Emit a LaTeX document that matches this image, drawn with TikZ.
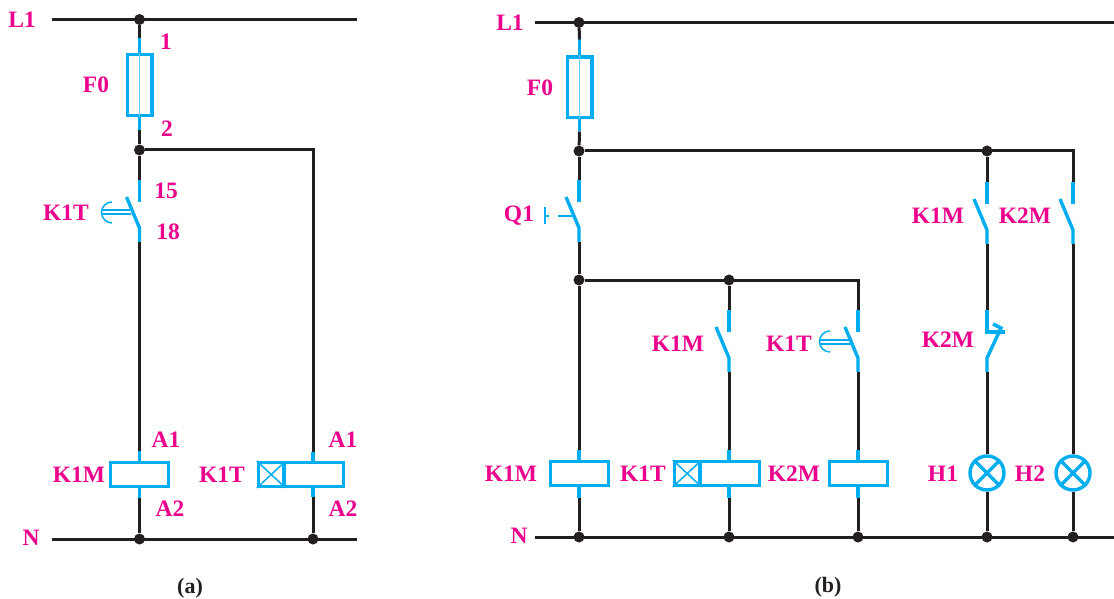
\documentclass[tikz,border=0pt]{standalone}
\usepackage{fontspec}
\setmainfont{Liberation Serif}
\usetikzlibrary{positioning}
\definecolor{dfblack}{RGB}{35,31,32}
\definecolor{dfcyan}{RGB}{0,174,239}
\definecolor{dfpink}{RGB}{236,0,140}
\tikzstyle{wire} = [line width=3pt, color=dfblack]
\tikzstyle{part} = [line width=3.4pt, color=dfcyan]
\tikzstyle{thinpart} = [line width=1.5pt, color=dfcyan]
\tikzstyle{joint} = [circle, fill=dfblack, inner sep=0pt, minimum size=11pt]
\tikzstyle{fuse} = [rectangle, draw=dfcyan, line width=3.4pt, fill=white, inner sep=0pt, minimum width=24.6pt, minimum height=60.6pt]
\tikzstyle{coil} = [rectangle, draw=dfcyan, line width=3.4pt, fill=white, inner sep=0pt, minimum width=58.4pt, minimum height=23.6pt]
\tikzstyle{timebox} = [rectangle, draw=dfcyan, line width=3.4pt, fill=white, inner sep=0pt, minimum width=25.5pt, minimum height=23.6pt]
\tikzstyle{lamp} = [circle, draw=dfcyan, line width=3.4pt, fill=white, inner sep=0pt, minimum size=34pt]
\tikzstyle{tag} = [text=dfpink, font=\fontsize{23.5}{25}\selectfont\bfseries, inner sep=0pt, yshift=-0.7pt]
\tikzstyle{caption} = [text=dfblack, font=\fontsize{22}{24}\selectfont\bfseries, inner sep=0pt]
\begin{document}
\begin{tikzpicture}[x=1pt, y=-1pt]
\useasboundingbox (0,0) rectangle (1114,599);

% Bus ends
\coordinate (lastart) at (52,19.5);
\coordinate (laend) at (357,19.5);
\coordinate (nastart) at (52,539);
\coordinate (naend) at (357,539);
\coordinate (lbstart) at (535,22.5);
\coordinate (lbend) at (1114,22.5);
\coordinate (nbstart) at (535,537);
\coordinate (nbend) at (1114,537);
\coordinate (cornera) at (313,150);
\coordinate (cornerb) at (1073,151);
\coordinate (cornerc) at (858,280);

% Joints
\node[joint] (jla) at (139.5,19.5) {};
\node[joint] (jfa) at (139.5,150) {};
\node[joint] (jna) at (139.5,539) {};
\node[joint] (jnt) at (313,539) {};
\node[joint] (jlb) at (579,22.5) {};
\node[joint] (jfb) at (579,151) {};
\node[joint] (jtop) at (987,151) {};
\node[joint] (jqb) at (579,280) {};
\node[joint] (jmid) at (729,280) {};
\node[joint] (jn1) at (579,537) {};
\node[joint] (jn2) at (729,537) {};
\node[joint] (jn3) at (858,537) {};
\node[joint] (jn4) at (987,537) {};
\node[joint] (jn5) at (1073,537) {};

% Fuses
\node[fuse] (fusea) at (139.5,85) {};
\node[fuse] (fuseb) at (579.5,87.5) {};
\draw[thinpart, dfcyan!60] (fusea.north) -- (fusea.south);
\draw[thinpart, dfcyan!60] (fuseb.north) -- (fuseb.south);
\draw[part] (fusea.north) -- ++(0,-15) coordinate (fatop);
\draw[part] (fusea.south) -- ++(0,13) coordinate (fabot);
\draw[part] (fuseb.north) -- ++(0,-16) coordinate (fbtop);
\draw[part] (fuseb.south) -- ++(0,12) coordinate (fbbot);

% Coils
\node[coil] (k1ma) at (139.5,474.5) {};
\node[coil, minimum width=59.3pt] (k1ta) at (313.6,474.5) {};
\node[timebox, left=-3.4pt of k1ta] (boxa) {};
\node[coil] (k1mb) at (579.5,473.5) {};
\node[coil, minimum width=59.3pt] (k1tb) at (729.6,473.5) {};
\node[timebox, left=-3.4pt of k1tb] (boxb) {};
\node[coil] (k2mb) at (858.5,473.5) {};
\draw[thinpart] (boxa.north west) -- (boxa.south east);
\draw[thinpart] (boxa.north east) -- (boxa.south west);
\draw[thinpart] (boxb.north west) -- (boxb.south east);
\draw[thinpart] (boxb.north east) -- (boxb.south west);
\foreach \n/\x/\ya/\yb in {k1ma/139.5/451/498, k1ta/313/452/497, k1mb/579/450/498, k1tb/729/450/498, k2mb/858/450/498}{
  \draw[part] (\x,\ya) coordinate (\n-t) -- (\n.north -| \x,\ya);
  \draw[part] (\x,\yb) coordinate (\n-b) -- (\n.south -| \x,\yb);
}

% Lamps
\node[lamp] (h1) at (987,473) {};
\node[lamp] (h2) at (1073,473) {};
\foreach \n in {h1,h2}{
  \draw[part] (\n.45) -- (\n.225);
  \draw[part] (\n.135) -- (\n.315);
}

% Normally open contacts
\foreach \n/\x/\y in {cta/139.5/180, cq/579/180, cmb/729/310, ctb/858/310, cm1/987/182, cm2/1073/182}{
  \draw[part] (\x,\y) coordinate (\n-t) -- (\x,\y+22);
  \draw[part] (\x-13,\y+17) -- (\x,\y+48) -- (\x,\y+62) coordinate (\n-b);
}

% Normally closed contact
\draw[part] (987,310) coordinate (cn-t) -- (987,332) -- (1005,332);
\draw[part] (993,324) -- (1001,328) -- (987,358) -- (987,372) coordinate (cn-b);

% Timer marks
\draw[thinpart] (102,210) -- (130,210);
\draw[thinpart] (102,214) -- (131,214);
\draw[thinpart] (112,202) arc[start angle=90, end angle=270, radius=10.5pt];
\draw[thinpart] (820,340) -- (850,340);
\draw[thinpart] (820,344) -- (851,344);
\draw[thinpart] (830,331) arc[start angle=90, end angle=270, radius=10.5pt];

% Push button
\draw[thinpart] (558,216) -- (572,216);
\draw[thinpart] (545,207) -- (545,224);
\draw[thinpart] (545,216) -- (549,216);

% Wires of (a)
\draw[wire] (lastart) -- (laend);
\draw[wire] (nastart) -- (naend);
\draw[wire] (jla) -- (fatop);
\draw[wire] (fabot) -- (jfa);
\draw[wire] (jfa) -- (cta-t);
\draw[wire] (cta-b) -- (k1ma-t);
\draw[wire] (k1ma-b) -- (jna);
\draw[wire] (jfa) -- (cornera) -- (k1ta-t);
\draw[wire] (k1ta-b) -- (jnt);

% Wires of (b)
\draw[wire] (lbstart) -- (lbend);
\draw[wire] (nbstart) -- (nbend);
\draw[wire] (jlb) -- (fbtop);
\draw[wire] (fbbot) -- (jfb);
\draw[wire] (jfb) -- (cq-t);
\draw[wire] (cq-b) -- (jqb);
\draw[wire] (jqb) -- (k1mb-t);
\draw[wire] (k1mb-b) -- (jn1);
\draw[wire] (jqb) -- (cornerc) -- (ctb-t);
\draw[wire] (jmid) -- (cmb-t);
\draw[wire] (cmb-b) -- (k1tb-t);
\draw[wire] (k1tb-b) -- (jn2);
\draw[wire] (ctb-b) -- (k2mb-t);
\draw[wire] (k2mb-b) -- (jn3);
\draw[wire] (jfb) -- (cornerb) -- (cm2-t);
\draw[wire] (jtop) -- (cm1-t);
\draw[wire] (cm1-b) -- (cn-t);
\draw[wire] (cn-b) -- (h1);
\draw[wire] (h1) -- (jn4);
\draw[wire] (cm2-b) -- (h2);
\draw[wire] (h2) -- (jn5);

% Labels of (a)
\node[tag] (tl1a) at (22,19) {L1};
\node[tag] (t1a) at (166,41) {1};
\node[tag] (tf0a) at (96,84) {F0};
\node[tag] (t2a) at (167,128) {2};
\node[tag] (t15a) at (166,190) {15};
\node[tag] (tk1ta) at (66,212) {K1T};
\node[tag] (t18a) at (168,231) {18};
\node[tag] (ta1a) at (166,439) {A1};
\node[tag] (tk1ma) at (79,474) {K1M};
\node[tag] (ta2a) at (170,508) {A2};
\node[tag] (tna) at (31,537) {N};
\node[tag] (tk1tc) at (222,474) {K1T};
\node[tag] (ta1c) at (343,439) {A1};
\node[tag] (ta2c) at (343,508) {A2};

% Labels of (b)
\node[tag] (tl1b) at (510,22) {L1};
\node[tag] (tf0b) at (540,87) {F0};
\node[tag] (tq1) at (519,215) {Q1};
\node[tag] (tm1) at (938,215) {K1M};
\node[tag] (tm2) at (1025,215) {K2M};
\node[tag] (tk1mb) at (678,343) {K1M};
\node[tag] (tk1tb) at (789,343) {K1T};
\node[tag] (tk2m) at (948,339) {K2M};
\node[tag] (tk1mc) at (511,473) {K1M};
\node[tag] (tk1td) at (643,473) {K1T};
\node[tag] (tk2mb) at (794,473) {K2M};
\node[tag] (th1) at (943,473) {H1};
\node[tag] (th2) at (1030,473) {H2};
\node[tag] (tnb) at (519,535) {N};

% Captions
\node[caption] (capa) at (190,588) {(a)};
\node[caption] (capb) at (828,587) {(b)};
\end{tikzpicture}
\end{document}
